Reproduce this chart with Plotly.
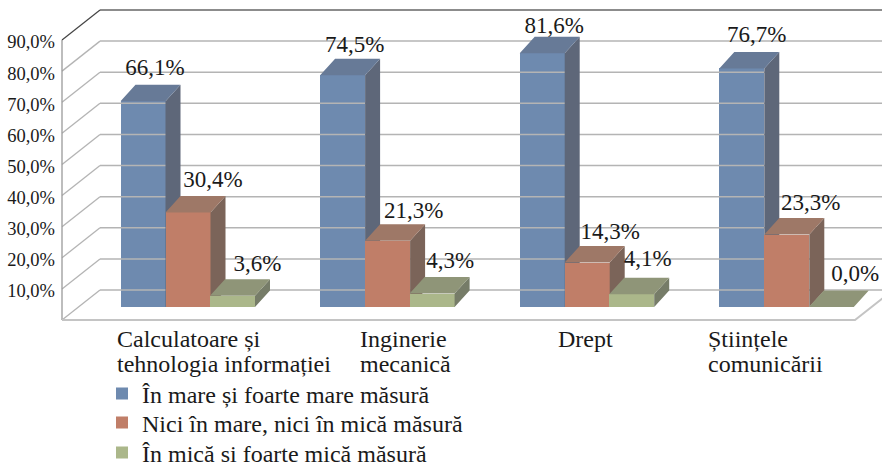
import plotly.graph_objects as go

# ---------- data ----------
categories = ["Calculatoare și<br>tehnologia informației", "Inginerie<br>mecanică", "Drept", "Științele<br>comunicării"]
series_names = ["În mare și foarte mare măsură", "Nici în mare, nici în mică măsură", "În mică si foarte mică măsură"]
mare = [66.1, 74.5, 81.6, 76.7]
nici = [30.4, 21.3, 14.3, 23.3]
mica = [3.6, 4.3, 4.1, 0.0]
y_ticks = [10, 20, 30, 40, 50, 60, 70, 80, 90]
y_ticklabels = ["10,0%", "20,0%", "30,0%", "40,0%", "50,0%", "60,0%", "70,0%", "80,0%", "90,0%"]

# ---------- styling / geometry ----------
W, H = 882, 463
FONT = "Liberation Serif"
PX_X = 199.6          # pixels per category
X0_PX = 188.0         # pixel of first category centre
PX_Y = 3.111          # pixels per percent
Y0_PX = 320.0         # pixel of value 0 on front edge

def ux(px):  # pixel length -> x units
    return px / PX_X
def uy(px):
    return px / PX_Y

x_range = [ux(-X0_PX), ux(W - X0_PX)]
y_range = [-(H - Y0_PX) / PX_Y, Y0_PX / PX_Y]

BAR_W = ux(45)
BASE = uy(13)              # bars stand this far above the floor's front edge
DX, DY = ux(15), uy(16.5)  # bar depth
WALL_DX, WALL_DY = ux(38), uy(30)  # wall depth
LEFT = ux(62 - X0_PX)
RIGHT = ux(855 - X0_PX)

series = [
    dict(name=series_names[0], vals=mare, shift=ux(-45), front="#6E8AAF", top="#677A97", side="#5E6779"),
    dict(name=series_names[1], vals=nici, shift=0.0,     front="#C07E68", top="#9E7867", side="#7B6459"),
    dict(name=series_names[2], vals=mica, shift=ux(44.5), front="#ABB78A", top="#8F9578", side="#767C68"),
]

# per-label offsets relative to bar centre / bar top (pixels)
label_dx = [[12, 12, 12, 15], [25, 26, 23, 24], [25, 18, 16, 24]]
label_dy = [[32, 29, 26, 32], [31, 28, 29, 30], [31, 31, 34, 32]]

# legend row tops (pixels)
legend_top_px = [371.5, 400.5, 430.5]
legend_left_px = 102
legend_font = 24

fig = go.Figure()

# ---------- walls, floor and grid ----------
GRID = "#B4B4B4"
def line(xs, ys, color=GRID, width=1.5):
    fig.add_trace(go.Scatter(x=xs, y=ys, mode="lines", line=dict(color=color, width=width),
                             hoverinfo="skip", showlegend=False))

for v in [0] + y_ticks:
    top = v == y_ticks[-1]
    line([LEFT + WALL_DX, x_range[1]], [v + WALL_DY, v + WALL_DY],
         color="#8C8C8C" if top else GRID, width=2.2 if top else 1.5)
    line([LEFT, LEFT + WALL_DX], [v, v + WALL_DY], color="#444444" if top else GRID, width=1.2 if top else 1.3)
line([LEFT, LEFT], [0, y_ticks[-1]], color="#9A9A9A", width=1.3)
line([LEFT, RIGHT, RIGHT + WALL_DX], [0, 0, WALL_DY], color="#C4C4C4", width=2)

# ---------- bars: one overlaid subplot per series so later series cover earlier ones ----------
for k, s in enumerate(series):
    suffix = "" if k == 0 else str(k + 1)
    xa, ya = "x" + suffix, "y" + suffix
    xs = [i + s["shift"] for i in range(len(categories))]
    fig.add_trace(go.Bar(x=xs, y=s["vals"], base=BASE, width=BAR_W, name=s["name"],
                         marker=dict(color=s["front"], line=dict(width=0)),
                         legend="legend" + suffix, xaxis=xa, yaxis=ya, hoverinfo="skip"))
    top_x, top_y, side_x, side_y = [], [], [], []
    for x, v in zip(xs, s["vals"]):
        l, r, t = x - BAR_W / 2, x + BAR_W / 2, BASE + v
        top_x += [l, r, r + DX, l + DX, l, None]
        top_y += [t, t, t + DY, t + DY, t, None]
        side_x += [r, r + DX, r + DX, r, r, None]
        side_y += [BASE, BASE + DY, t + DY, t, BASE, None]
    for px, py, c in ((side_x, side_y, s["side"]), (top_x, top_y, s["top"])):
        fig.add_trace(go.Scatter(x=px, y=py, mode="lines", fill="toself", fillcolor=c,
                                 line=dict(width=0, color=c), hoverinfo="skip", showlegend=False,
                                 xaxis=xa, yaxis=ya))

# ---------- data labels ----------
lx, ly, lt = [], [], []
for k, s in enumerate(series):
    for i, v in enumerate(s["vals"]):
        lx.append(i + s["shift"] + ux(label_dx[k][i]))
        ly.append(BASE + v + uy(label_dy[k][i]))
        lt.append(f"{v:.1f}%".replace(".", ","))
fig.add_trace(go.Scatter(x=lx, y=ly, text=lt, mode="text", textposition="middle center",
                         textfont=dict(family=FONT, size=23, color="#1a1a1a"),
                         hoverinfo="skip", showlegend=False, xaxis="x3", yaxis="y3", cliponaxis=False))

# ---------- category labels (one annotation per line for the tight leading) ----------
cat_left_px = [115, 358, 556, 706]
for c, px in zip(categories, cat_left_px):
    for j, part in enumerate(c.split("<br>")):
        fig.add_annotation(x=ux(px - X0_PX), y=uy(Y0_PX - 339 - 25 * j), xref="x", yref="y", text=part,
                           showarrow=False, xanchor="left", yanchor="middle", align="left",
                           font=dict(family=FONT, size=24, color="#1a1a1a"))

hidden = dict(visible=False, fixedrange=True)
layout_axes = dict(
    xaxis=dict(range=x_range, domain=[0, 1], visible=False, fixedrange=True),
    yaxis=dict(range=y_range, domain=[0, 1], anchor="free", position=62 / W, showgrid=False,
               zeroline=False, showline=False, ticks="", tickmode="array", tickvals=y_ticks,
               ticktext=y_ticklabels, tickfont=dict(family=FONT, size=18.5, color="#1a1a1a"),
               ticklabelstandoff=7, ticklabelshift=2, fixedrange=True),
    xaxis2=dict(range=x_range, overlaying="x", **hidden),
    yaxis2=dict(range=y_range, overlaying="y", anchor="x2", **hidden),
    xaxis3=dict(range=x_range, overlaying="x", **hidden),
    yaxis3=dict(range=y_range, overlaying="y", anchor="x3", **hidden),
)

legends = {}
for k, top_px in enumerate(legend_top_px):
    key = "legend" if k == 0 else f"legend{k + 1}"
    legends[key] = dict(x=legend_left_px / W, y=1 - top_px / H, xanchor="left", yanchor="top",
                        bgcolor="rgba(0,0,0,0)", font=dict(family=FONT, size=legend_font, color="#1a1a1a"))

fig.update_layout(
    width=W, height=H, margin=dict(l=0, r=0, t=0, b=0, autoexpand=False),
    paper_bgcolor="white", plot_bgcolor="white",
    barmode="overlay", bargap=0,
    **legends,
    **layout_axes,
)

fig.write_html("out.html", config={"displayModeBar": False},
               post_script="document.body.style.margin='0';document.documentElement.style.overflow='hidden';")
